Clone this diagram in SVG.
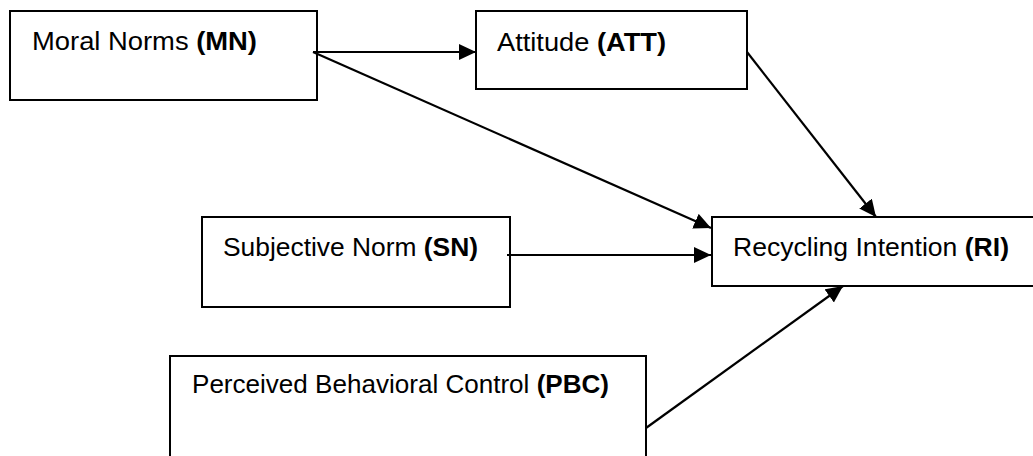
<svg xmlns="http://www.w3.org/2000/svg" width="1033" height="456" viewBox="0 0 1033 456">
  <style>
    .box { fill: #ffffff; stroke: #000000; stroke-width: 2; }
    .lbl { font-family: "Liberation Sans", Arial, sans-serif; font-size: 26px; fill: #000000; }
    .b { font-weight: bold; }
    .conn { stroke: #000000; stroke-width: 2.2; fill: none; marker-end: url(#arrow); }
  </style>
  <defs>
    <marker id="arrow" markerUnits="userSpaceOnUse" markerWidth="18" markerHeight="17" refX="17" refY="8" orient="auto">
      <path d="M0,0 L17,8 L0,16 z" fill="#000000"/>
    </marker>
  </defs>
  <rect width="1033" height="456" fill="#ffffff"/>

  <g id="node-mn">
    <rect class="box" x="10" y="11" width="307" height="89"/>
    <text class="lbl" x="32" y="50" textLength="225" lengthAdjust="spacingAndGlyphs">Moral Norms <tspan class="b">(MN)</tspan></text>
  </g>

  <g id="node-att">
    <rect class="box" x="476" y="11" width="271" height="78"/>
    <text class="lbl" x="497" y="51" textLength="169" lengthAdjust="spacingAndGlyphs">Attitude <tspan class="b">(ATT)</tspan></text>
  </g>

  <g id="node-sn">
    <rect class="box" x="202" y="217" width="308" height="90"/>
    <text class="lbl" x="223" y="256" textLength="255" lengthAdjust="spacingAndGlyphs">Subjective Norm <tspan class="b">(SN)</tspan></text>
  </g>

  <g id="node-ri">
    <rect class="box" x="712" y="217" width="330" height="69"/>
    <text class="lbl" x="733" y="256" textLength="276" lengthAdjust="spacingAndGlyphs">Recycling Intention <tspan class="b">(RI)</tspan></text>
  </g>

  <g id="node-pbc">
    <rect class="box" x="170" y="356" width="476" height="110"/>
    <text class="lbl" x="192" y="393" textLength="417" lengthAdjust="spacingAndGlyphs">Perceived Behavioral Control <tspan class="b">(PBC)</tspan></text>
  </g>

  <g id="connectors">
    <line class="conn" x1="313" y1="52" x2="476" y2="52"/>
    <line class="conn" x1="313" y1="52" x2="711" y2="228"/>
    <line class="conn" x1="747" y1="52" x2="876" y2="217"/>
    <line class="conn" x1="507" y1="255" x2="711" y2="255"/>
    <line class="conn" x1="646" y1="428" x2="843" y2="286"/>
  </g>
</svg>
